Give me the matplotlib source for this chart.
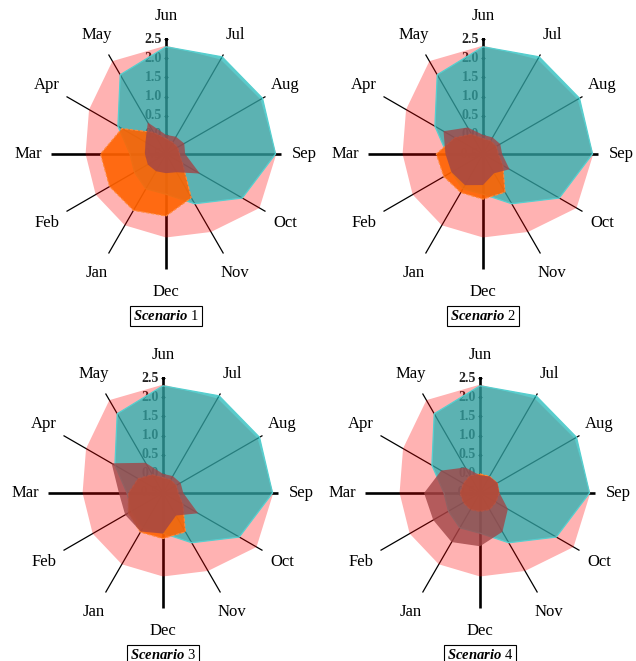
import numpy as np
import matplotlib.pyplot as plt

plt.rcParams['font.family'] = ['Liberation Serif', 'DejaVu Serif']
plt.rcParams['mathtext.fontset'] = 'custom'
plt.rcParams['mathtext.rm'] = 'Liberation Serif'
plt.rcParams['mathtext.bfit'] = 'Liberation Serif:bold:italic'

months = ['Jun', 'Jul', 'Aug', 'Sep', 'Oct', 'Nov', 'Dec', 'Jan', 'Feb', 'Mar', 'Apr', 'May']
ticks = [-0.5, 0.0, 0.5, 1.0, 1.5, 2.0, 2.5]
tick_labels = ['-0.5', '0.0', '0.5', '1.0', '1.5', '2.0', '2.5']
scenarios = ['1', '2', '3', '4']

# series shared by every scenario
pink_vals = [2.33, 2.35, 2.35, 2.38, 2.32, 1.85, 1.68, 1.65, 1.62, 1.60, 1.82, 2.30]
teal_vals = [2.30, 2.43, 2.41, 2.36, 1.80, 1.00, 0.55, 0.55, 0.45, 0.44, 0.95, 1.89]

# scenario-specific series
orange_s1 = [-0.10, -0.15, -0.15, -0.15, 0.00, 0.82, 1.12, 1.20, 1.20, 1.21, 0.83, 0.15]
orange_s2 = [-0.10, -0.10, -0.10, -0.10, 0.10, 0.65, 0.68, 0.66, 0.68, 0.72, 0.35, 0.10]
orange_s3 = [-0.10, -0.10, -0.10, -0.10, 0.10, 0.67, 0.69, 0.68, 0.55, 0.40, 0.25, 0.05]
orange_s4 = [0.00, 0.00, 0.02, 0.00, -0.02, 0.00, -0.02, 0.00, 0.00, 0.02, 0.00, 0.02]

dark_s1 = [0.00, 0.02, 0.05, 0.00, 0.52, 0.05, 0.00, 0.02, 0.05, 0.05, 0.12, 0.45]
dark_s2 = [0.00, 0.00, 0.02, 0.00, 0.30, 0.08, 0.31, 0.44, 0.45, 0.48, 0.69, 0.30]
dark_s3 = [0.00, 0.01, 0.03, 0.03, 0.56, 0.18, 0.56, 0.66, 0.64, 0.65, 1.05, 0.41]
dark_s4 = [-0.04, 0.00, 0.03, 0.01, 0.34, 0.67, 0.89, 0.98, 0.91, 0.96, 0.67, 0.27]

orange_all = [orange_s1, orange_s2, orange_s3, orange_s4]
dark_all = [dark_s1, dark_s2, dark_s3, dark_s4]

W, H = 636, 661
PX = 38.3            # pixels per radial unit
RMIN, RMAX = -0.5, 3.3
half = (RMAX - RMIN) * PX
centers = [(166, 154), (483, 154), (163, 493), (480, 493)]

theta = np.arange(12) * 2 * np.pi / 12


def closed(v):
    return np.append(theta, theta[0]), np.append(v, v[0])


fig = plt.figure(figsize=(W / 100, H / 100), dpi=100)

for k, (cx, cy) in enumerate(centers):
    ax = fig.add_axes([(cx - half) / W, (H - cy - half) / H, 2 * half / W, 2 * half / H],
                      projection='polar')
    ax.set_theta_zero_location('N')
    ax.set_theta_direction(-1)
    ax.set_ylim(RMIN, RMAX)
    ax.set_axis_off()

    # spokes, the four cardinal ones heavier
    for i, th in enumerate(theta):
        ax.plot([th, th], [RMIN, 2.5], color='black', lw=1.9 if i % 3 == 0 else 0.9,
                solid_capstyle='butt', zorder=1)
    ax.plot(np.zeros(len(ticks)), ticks, ls='none', marker='_', ms=3, mew=0.8,
            color='black', zorder=1)
    for t, lab in zip(ticks, tick_labels):
        ax.annotate(lab, xy=(0, t), xytext=(-3, 0), textcoords='offset points',
                    ha='right', va='center', fontsize=10, fontweight='bold', zorder=1,
                    color='#222222', annotation_clip=False)

    ax.fill(*closed(pink_vals), facecolor=(1, 0, 0, 0.3), edgecolor='none', zorder=2)
    ax.fill(*closed(teal_vals), facecolor=(0.09, 0.70, 0.70, 0.70), edgecolor='#55cfcf',
            lw=0.9, zorder=3)
    ax.fill(*closed(orange_all[k]), facecolor=(1.0, 0.39, 0.0, 0.9), edgecolor='#ff8a3c',
            lw=0.8, ls=(0, (3, 1.5)), zorder=4)
    ax.fill(*closed(dark_all[k]), facecolor=(0.63, 0.27, 0.28, 0.8), edgecolor='none',
            zorder=5)

    for th, m in zip(theta, months):
        ax.text(th, 3.1, m, ha='center', va='center', fontsize=12, clip_on=False, zorder=6)

    ax.text(0.5, 0.5 - 162 / (2 * half), r'$\mathbfit{Scenario}$ ' + scenarios[k],
            transform=ax.transAxes, ha='center', va='center', fontsize=10.5, clip_on=False,
            bbox=dict(boxstyle='square,pad=0.2', fc='white', ec='black', lw=0.8), zorder=6)

fig.savefig('out.png', dpi=100)
